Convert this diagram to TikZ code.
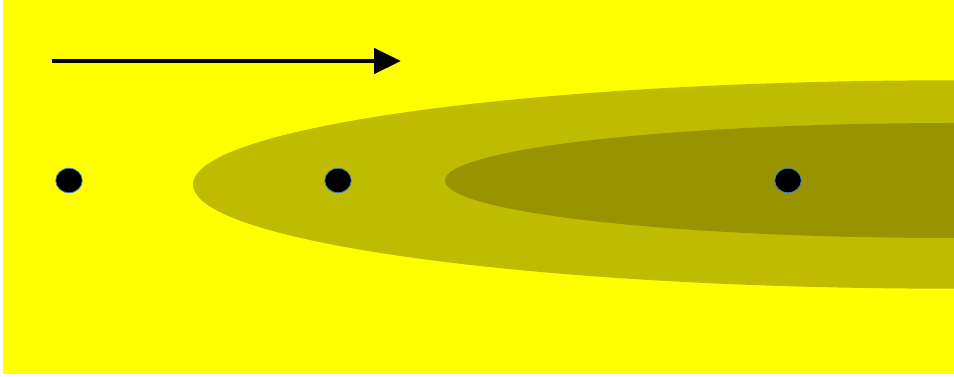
\documentclass[tikz,border=0pt]{standalone}
\usetikzlibrary{arrows.meta,shapes.geometric}
\definecolor{bgyellow}{RGB}{255,255,0}
\definecolor{outerolive}{RGB}{191,187,0}
\definecolor{innerolive}{RGB}{152,148,0}
\definecolor{dotedge}{RGB}{70,130,180}
\tikzset{
  dotmark/.style={ellipse,fill=black,draw=dotedge,line width=0.8pt,inner sep=0pt,minimum width=26.5pt,minimum height=24.5pt},
  movearrow/.style={line width=4.5pt,-{Triangle[length=27pt,width=25pt]}}
}
\begin{document}
\begin{tikzpicture}[x=1pt,y=-1pt]
\useasboundingbox (0,0) rectangle (954,377);
\fill[white] (0,0) rectangle (954,377);
\fill[bgyellow] (3,0) rectangle (954,374);
\begin{scope}
  \clip (3,0) rectangle (954,374);
  \fill[outerolive] (954,184.5) ellipse [x radius=761, y radius=104.2];
  \fill[innerolive] (954,180.5) ellipse [x radius=509, y radius=57.5];
\end{scope}
\coordinate (arrowstart) at (52,61);
\coordinate (arrowend) at (401,61);
\draw[movearrow] (arrowstart) -- (arrowend);
\node[dotmark] (dotA) at (69,180.5) {};
\node[dotmark] (dotB) at (338,180.5) {};
\node[dotmark] (dotC) at (788,180.5) {};
\end{tikzpicture}
\end{document}
